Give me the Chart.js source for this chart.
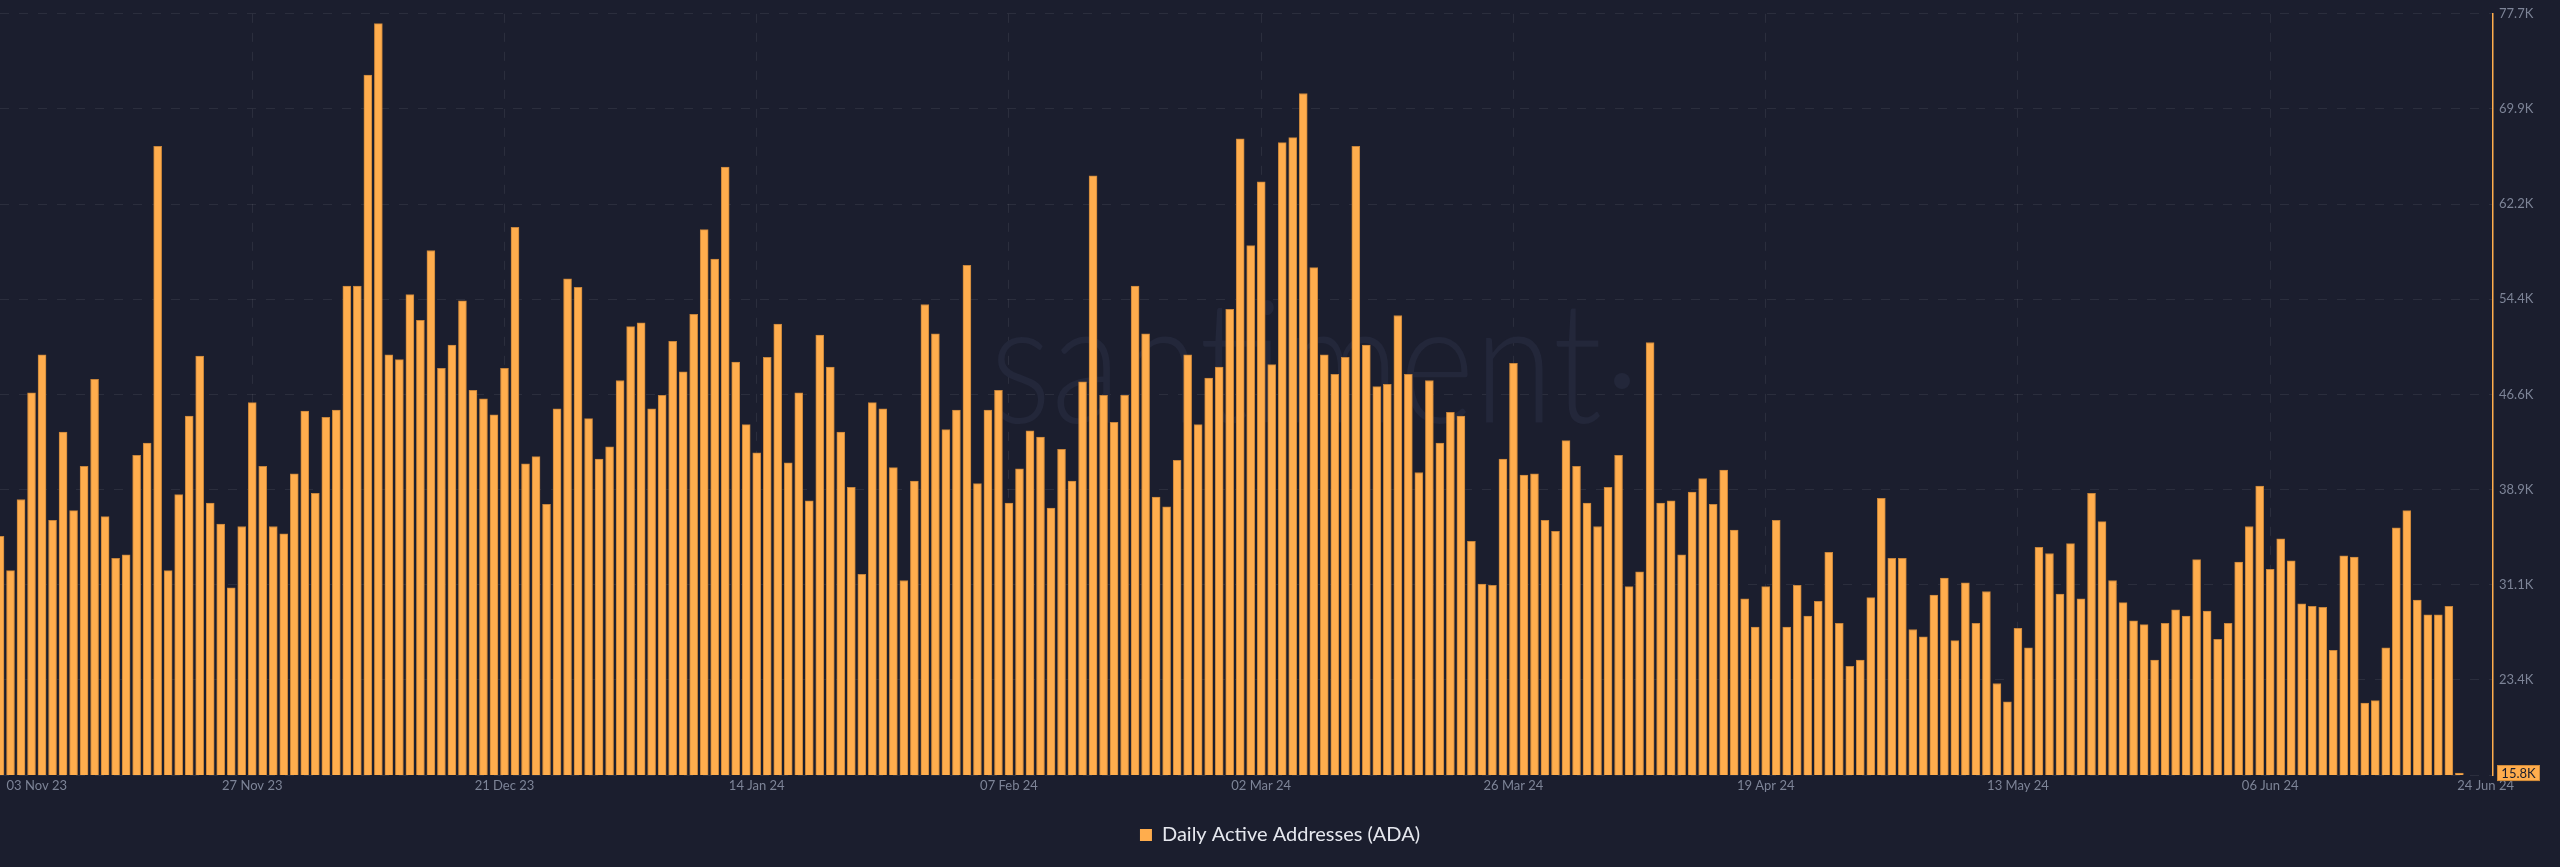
<!DOCTYPE html>
<html>
<head>
<meta charset="utf-8">
<script src="https://cdn.jsdelivr.net/npm/chart.js@4.4.1/dist/chart.umd.min.js"></script>
<style>
  html, body { margin: 0; padding: 0; background: #1b1e2e; }
  #wrap { width: 2560px; height: 867px; position: relative; }
</style>
</head>
<body>
<div id="wrap"><canvas id="c"></canvas></div>
<script>
// ---------------- data (one bar per day, starting 03 Nov 2023) ----------------
const startDate = '2023-11-03';
const seriesLabel = 'Daily Active Addresses (ADA)';
// values in thousands of addresses
const dailyActiveAddressesK = [
  35.1, 32.3, 38.1, 46.8, 49.9, 36.4, 43.6, 37.2, 40.8, 47.9,
  36.7, 33.3, 33.6, 41.7, 42.7, 66.9, 32.3, 38.5, 44.9, 49.8,
  37.8, 36.1, 30.9, 35.9, 46.0, 40.8, 35.9, 35.3, 40.2, 45.3,
  38.6, 44.8, 45.4, 55.5, 55.5, 72.7, 76.9, 49.9, 49.5, 54.8,
  52.7, 58.4, 48.8, 50.7, 54.3, 47.0, 46.3, 45.0, 48.8, 60.3,
  41.0, 41.6, 37.7, 45.5, 56.1, 55.4, 44.7, 41.4, 42.4, 47.8,
  52.2, 52.5, 45.5, 46.6, 51.0, 48.5, 53.2, 60.1, 57.7, 65.2,
  49.3, 44.2, 41.9, 49.7, 52.4, 41.1, 46.8, 38.0, 51.5, 48.9,
  43.6, 39.1, 32.0, 46.0, 45.5, 40.7, 31.5, 39.6, 54.0, 51.6,
  43.8, 45.4, 57.2, 39.4, 45.4, 47.0, 37.8, 40.6, 43.7, 43.2,
  37.4, 42.2, 39.6, 47.7, 64.5, 46.6, 44.4, 46.6, 55.5, 51.6,
  38.3, 37.5, 41.3, 49.9, 44.2, 48.0, 48.9, 53.6, 67.5, 58.8,
  64.0, 49.1, 67.2, 67.6, 71.2, 57.0, 49.9, 48.3, 49.7, 66.9,
  50.7, 47.3, 47.5, 53.1, 48.3, 40.3, 47.8, 42.7, 45.2, 44.9,
  34.7, 31.2, 31.1, 41.4, 49.2, 40.1, 40.2, 36.4, 35.5, 42.9,
  40.8, 37.8, 35.9, 39.1, 41.7, 31.0, 32.2, 50.9, 37.8, 38.0,
  33.6, 38.7, 39.8, 37.7, 40.5, 35.6, 30.0, 27.7, 31.0, 36.4,
  27.7, 31.1, 28.6, 29.8, 33.8, 28.0, 24.5, 25.0, 30.1, 38.2,
  33.3, 33.3, 27.5, 26.9, 30.3, 31.7, 26.6, 31.3, 28.0, 30.6,
  23.1, 21.6, 27.6, 26.0, 34.2, 33.7, 30.4, 34.5, 30.0, 38.6,
  36.3, 31.5, 29.7, 28.2, 27.9, 25.0, 28.0, 29.1, 28.6, 33.2,
  29.0, 26.7, 28.0, 33.0, 35.9, 39.2, 32.4, 34.9, 33.1, 29.6,
  29.4, 29.3, 25.8, 33.5, 33.4, 21.5, 21.7, 26.0, 35.8, 37.2,
  29.9, 28.7, 28.7, 29.4, 15.8
];
// x tick labels and their day offsets from startDate
const xTickDays   = [0, 24, 48, 72, 96, 120, 144, 168, 192, 216, 234];
const xTickLabels = ['03 Nov 23', '27 Nov 23', '21 Dec 23', '14 Jan 24', '07 Feb 24',
                     '02 Mar 24', '26 Mar 24', '19 Apr 24', '13 May 24', '06 Jun 24', '24 Jun 24'];
// y axis ticks (thousands)
const yTickValues = [15.64, 23.4, 31.16, 38.91, 46.67, 54.43, 62.19, 69.94, 77.7];
const yTickLabels = ['', '23.4K', '31.1K', '38.9K', '46.6K', '54.4K', '62.2K', '69.9K', '77.7K'];

// ---------------- styles ----------------
const BG = '#1b1e2e';
const ORANGE = '#ffad4d';
const BAR_EDGE = '#c7843a';
const GRID = 'rgba(255,255,255,0.075)';
const TICK = '#7d8497';
const FONT = 'Lato, "Open Sans", sans-serif';

Chart.defaults.font.family = FONT;

const points = dailyActiveAddressesK.map((v, i) => ({ x: i, y: v }));
const lastIdx = xTickDays.length - 1;

const watermark = {
  id: 'watermark',
  beforeDatasetsDraw(chart) {
    const ctx = chart.ctx;
    ctx.save();
    ctx.fillStyle = '#23273a';
    ctx.font = '300 170px ' + FONT;
    ctx.textBaseline = 'alphabetic';
    ctx.textAlign = 'left';
    const w = ctx.measureText('santiment').width;
    ctx.translate(990, 423);
    ctx.scale(612 / w, 1);
    ctx.fillText('santiment', 0, 0);
    ctx.restore();
    ctx.save();
    ctx.fillStyle = '#23273a';
    ctx.beginPath();
    ctx.arc(1622, 381, 8, 0, Math.PI * 2);
    ctx.fill();
    ctx.restore();
  }
};

const lastValueMarker = {
  id: 'lastValueMarker',
  afterDraw(chart) {
    const ctx = chart.ctx;
    const v = dailyActiveAddressesK[dailyActiveAddressesK.length - 1];
    const y = chart.scales.y.getPixelForValue(v);
    const x = chart.chartArea.right + 4;
    const w = 43, h = 16;
    ctx.save();
    ctx.fillStyle = ORANGE;
    ctx.fillRect(x, y - h / 2, w, h);
    ctx.strokeStyle = '#d08a38';
    ctx.lineWidth = 1;
    ctx.strokeRect(x + 0.5, y - h / 2 + 0.5, w - 1, h - 1);
    ctx.fillStyle = BG;
    ctx.font = '13px ' + FONT;
    ctx.textAlign = 'center';
    ctx.textBaseline = 'middle';
    ctx.fillText(v.toFixed(1) + 'K', x + w / 2, y + 1);
    ctx.restore();
  }
};

new Chart(document.getElementById('c'), {
  type: 'bar',
  data: {
    datasets: [{
      label: seriesLabel,
      data: points,
      backgroundColor: ORANGE,
      borderColor: BAR_EDGE,
      borderWidth: 1,
      borderSkipped: 'start',
      barThickness: 8
    }]
  },
  plugins: [watermark, lastValueMarker],
  options: {
    responsive: true,
    maintainAspectRatio: false,
    animation: false,
    layout: { padding: { top: 9, left: 0, right: 0, bottom: 12 } },
    plugins: {
      tooltip: { enabled: false },
      legend: {
        position: 'bottom',
        labels: {
          boxWidth: 12,
          boxHeight: 12,
          padding: 24,
          color: '#e5e7ee',
          font: { size: 20 },
          generateLabels(chart) {
            const items = Chart.defaults.plugins.legend.labels.generateLabels(chart);
            items.forEach(it => { it.strokeStyle = ORANGE; it.lineWidth = 0; });
            return items;
          }
        }
      }
    },
    scales: {
      x: {
        type: 'linear',
        offset: false,
        min: 0,
        max: 237.2,
        afterBuildTicks(scale) {
          // first/last labels are nudged inward like the original
          scale.ticks = xTickDays.map((d, i) => ({
            value: i === 0 ? d + 3.5 : (i === lastIdx ? d + 2.5 : d)
          }));
        },
        afterFit(scale) {
          scale.height = 26;
          scale.paddingLeft = 0;
          scale.paddingRight = 0;
        },
        ticks: {
          autoSkip: false,
          maxRotation: 0,
          minRotation: 0,
          padding: 3,
          color: TICK,
          font: { size: 13 },
          callback: (value, index) => xTickLabels[index]
        },
        grid: {
          offset: false,
          drawTicks: false,
          color: ctx => (ctx.index === 0 || ctx.index === lastIdx) ? 'rgba(0,0,0,0)' : GRID,
          lineWidth: 1
        },
        border: { display: false, dash: [9, 10] }
      },
      y: {
        position: 'right',
        min: yTickValues[0],
        max: yTickValues[yTickValues.length - 1],
        afterBuildTicks(scale) {
          scale.ticks = yTickValues.map(v => ({ value: v }));
        },
        afterFit(scale) {
          scale.width = 67;
        },
        ticks: {
          padding: 6,
          color: TICK,
          font: { size: 13 },
          callback: (value, index) => yTickLabels[index]
        },
        grid: {
          drawTicks: false,
          color: GRID,
          lineWidth: 1
        },
        border: { display: true, color: ORANGE, width: 1.5, dash: [9, 10] }
      }
    }
  }
});
</script>
</body>
</html>
